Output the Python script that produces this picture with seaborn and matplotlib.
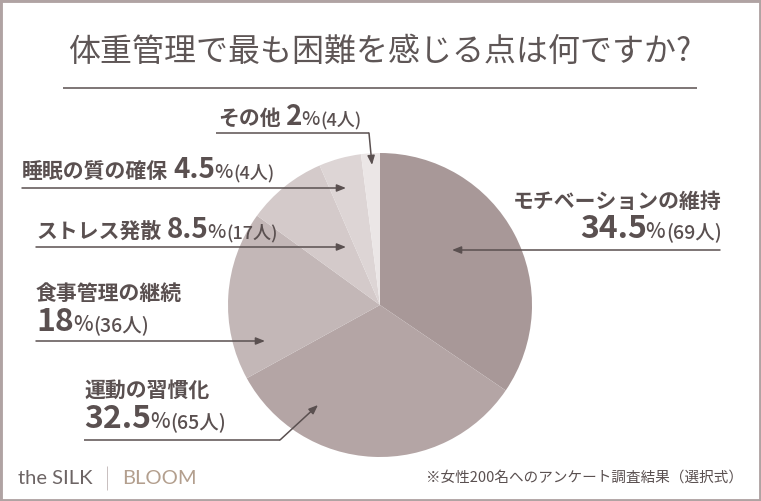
import matplotlib
matplotlib.use("Agg")
import matplotlib.pyplot as plt
import seaborn as sns
from matplotlib.patches import Rectangle

sns.set_theme(style="white")
plt.rcParams['font.family'] = ['Noto Sans CJK JP', 'DejaVu Sans']

# ---- data ----
categories = ["モチベーションの維持", "運動の習慣化", "食事管理の継続",
              "ストレス発散", "睡眠の質の確保", "その他"]
percents = [34.5, 32.5, 18, 8.5, 4.5, 2]
pct_labels = ["34.5", "32.5", "18", "8.5", "4.5", "2"]
counts = [69, 65, 36, 17, 4, 4]
title = "体重管理で最も困難を感じる点は何ですか?"
note = "※女性200名へのアンケート調査結果（選択式）"
colors = sns.color_palette(["#a89898", "#b4a5a5", "#c3b7b7", "#d4caca", "#ddd5d5", "#ebe6e6"])

W, H = 761, 501
TXT = "#5a5050"

fig = plt.figure(figsize=(W / 100, H / 100), dpi=100)
ax = fig.add_axes([0, 0, 1, 1])
fig.patch.set_facecolor("white")

def Y(y):
    return H - y

ax.pie(percents, colors=colors, startangle=90, counterclock=False,
       center=(380, Y(305)), radius=152, wedgeprops=dict(linewidth=0))
ax.set_xlim(0, W)
ax.set_ylim(0, H)
ax.set_aspect('auto')
ax.axis('off')

renderer = fig.canvas.get_renderer()

def seg_text(x, y, segs, ha='left'):
    """segs: list of (text, size, weight, gap)"""
    arts = []
    cx = x
    for s, size, wt, gap in segs:
        cx += gap
        t = ax.text(cx, Y(y), s, fontsize=size, fontweight=wt, color=TXT,
                    ha='left', va='baseline')
        bb = t.get_window_extent(renderer=renderer)
        cx += bb.width
        arts.append(t)
    if ha == 'right':
        total = cx - x
        for t in arts:
            px, py = t.get_position()
            t.set_position((px - total, py))

def pct_segs(i, big, pc, par, lead=0):
    return [(pct_labels[i], big, 'bold', lead), ("%", pc, 'medium', -1),
            (f"({counts[i]}人)", par, 'medium', 1)]

LBL = 15

# その他
seg_text(218, 125, [(categories[5], LBL, 'bold', 0)] + pct_segs(5, 20, 14, 13, 5))
# 睡眠
seg_text(22, 178, [(categories[4], LBL, 'bold', 0)] + pct_segs(4, 20, 14, 13, 5))
# ストレス
seg_text(36, 238, [(categories[3], LBL, 'bold', 0)] + pct_segs(3, 20, 14, 13, 5))
# 食事
seg_text(36, 300, [(categories[2], LBL, 'bold', 0)])
seg_text(36, 331, pct_segs(2, 23, 15, 14))
# 運動
seg_text(84, 397, [(categories[1], LBL, 'bold', 0)])
seg_text(84, 428, pct_segs(1, 23, 15, 14))
# モチベーション
seg_text(722, 208, [(categories[0], LBL, 'bold', 0)], ha='right')
seg_text(722, 238, pct_segs(0, 23, 15, 14), ha='right')

arrow_kw = dict(arrowstyle='-|>,head_length=0.45,head_width=0.18', color=TXT,
                lw=1.1, shrinkA=0, shrinkB=0)

def arrow(x0, y0, x1, y1):
    ax.annotate("", xy=(x1, Y(y1)), xytext=(x0, Y(y0)), arrowprops=arrow_kw)

def line(xs, ys, lw=1.1, color=TXT):
    ax.plot(xs, [Y(v) for v in ys], color=color, lw=lw, solid_capstyle='butt')

# その他
line([216, 369], [133, 133])
arrow(369, 133, 372, 165)
# 睡眠
arrow(22, 188, 346, 188)
# ストレス
arrow(36, 247, 346, 247)
# 食事
arrow(36, 341, 265, 341)
# 運動
line([84, 280], [440, 440])
arrow(280, 440, 318, 405)
# モチベーション
arrow(720, 250, 452, 250)

# title
ax.text(380, Y(52), title, fontsize=23, color="#5e5656", ha='center', va='center',
        fontweight='normal')
line([63, 697], [88, 88])

# footer
ax.text(18, Y(478), "the SILK", fontsize=14.5, color="#6d6565", ha='left', va='center',
        family=['Lato', 'DejaVu Sans'], fontweight='normal')
line([107, 107], [466, 490], lw=0.7, color="#c8bebe")
ax.text(122, Y(478), "BLOOM", fontsize=14.5, color="#b39f8e", ha='left', va='center',
        family=['Lato', 'DejaVu Sans'], fontweight='normal')
ax.text(743, Y(478), note, fontsize=10.5, color=TXT, ha='right', va='center')

# border
fig.patches.append(Rectangle((0, 0), 1, 1, transform=fig.transFigure, fill=False,
                             edgecolor="#b0a3a3", linewidth=3.5, zorder=10))

fig.savefig("out.png", dpi=100, facecolor="white")
